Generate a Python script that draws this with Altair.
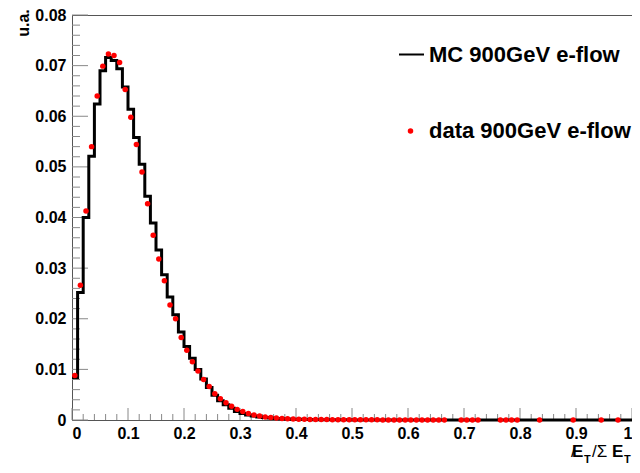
import altair as alt
import pandas as pd
import numpy as np

# ---- data ----
# MC histogram: 100 bins of width 0.01 on [0, 1]
mc_values = [
    0.0084, 0.0252, 0.0400, 0.0521, 0.0624, 0.0690, 0.0716, 0.0710, 0.0694, 0.0658,
    0.0614, 0.0558, 0.0505, 0.0442, 0.0389, 0.0336, 0.0287, 0.0243, 0.0208, 0.0174,
    0.0145, 0.0122, 0.0100, 0.0081, 0.0064, 0.0049, 0.0038, 0.0030, 0.0023, 0.0017,
    0.0013, 0.0010, 0.0008, 0.0006, 0.0005, 0.0004, 0.0003, 0.00025, 0.0002, 0.00016,
    0.00013, 0.0001, 0.00008, 0.00007, 0.00006, 0.00005, 0.00004, 0.00004, 0.00003, 0.00003,
    0.00002, 0.00002, 0.00002, 0.00002, 0.00002, 0.00001, 0.00001, 0.00001, 0.00001, 0.00001,
    0.00001, 0.00001, 0.00001, 0.00001, 0.00001, 0.00001, 0.00001, 0.00001, 0.00001, 0.00001,
    0.00001, 0.00001, 0.00001, 0.00001, 0.0, 0.0, 0.00001, 0.00001, 0.0, 0.0,
    0.0, 0.0, 0.0, 0.0, 0.0, 0.0, 0.0, 0.0, 0.0, 0.0,
    0.0, 0.0, 0.0, 0.0, 0.0, 0.0, 0.0, 0.0, 0.0, 0.0,
]
bin_low = [round(i / 100, 2) for i in range(100)]

# data points (bin centres) and values
data_x = [
    0.005, 0.015, 0.025, 0.035, 0.045, 0.055, 0.065, 0.075, 0.085, 0.095,
    0.105, 0.115, 0.125, 0.135, 0.145, 0.155, 0.165, 0.175, 0.185, 0.195,
    0.205, 0.215, 0.225, 0.235, 0.245, 0.255, 0.265, 0.275, 0.285, 0.295,
    0.305, 0.315, 0.325, 0.335, 0.345, 0.355, 0.365, 0.375, 0.385, 0.395,
    0.405, 0.415, 0.425, 0.435, 0.445, 0.455, 0.465, 0.475, 0.485, 0.495,
    0.505, 0.515, 0.525, 0.535, 0.545, 0.555, 0.565, 0.575, 0.585, 0.595,
    0.605, 0.615, 0.625, 0.635, 0.645, 0.655, 0.665,
    0.695, 0.705, 0.715, 0.725,
    0.765, 0.775, 0.785, 0.795,
    0.835, 0.895, 0.945, 0.975,
]
data_y = [
    0.0088, 0.0266, 0.0413, 0.0540, 0.0640, 0.0699, 0.0723, 0.0720, 0.0706, 0.0653,
    0.0598, 0.0544, 0.0490, 0.0427, 0.0365, 0.0318, 0.0275, 0.0227, 0.0200, 0.0163,
    0.0138, 0.0115, 0.0097, 0.0080, 0.0066, 0.0052, 0.0042, 0.0034, 0.0027, 0.0021,
    0.0017, 0.0013, 0.0010, 0.0008, 0.0006, 0.0005, 0.0004, 0.0003, 0.00025, 0.0002,
    0.00016, 0.00014, 0.00012, 0.0001, 0.00009, 0.00008, 0.00007, 0.00006, 0.00005, 0.00005,
    0.00004, 0.00004, 0.00003, 0.00003, 0.00003, 0.00002, 0.00002, 0.00002, 0.00002, 0.00002,
    0.00002, 0.00002, 0.00001, 0.00001, 0.00001, 0.00001, 0.00001,
    0.00001, 0.00001, 0.00001, 0.00001,
    0.00001, 0.00001, 0.00001, 0.00001,
    0.00001, 0.00001, 0.00001, 0.00001,
]

x_major = [0, 0.1, 0.2, 0.3, 0.4, 0.5, 0.6, 0.7, 0.8, 0.9, 1.0]
x_minor = [round(i * 0.02, 2) for i in range(51) if i % 5 != 0]
y_major = [0, 0.01, 0.02, 0.03, 0.04, 0.05, 0.06, 0.07, 0.08]
y_minor = [round(i * 0.002, 3) for i in range(41) if i % 5 != 0]

legend_mc = "MC 900GeV e-flow"
legend_data = "data 900GeV e-flow"

# ---- chart ----
W, H = 560, 405
FONT = "Liberation Sans"

xs = alt.Scale(domain=[0, 1], nice=False, zero=False)
ys = alt.Scale(domain=[0, 0.08], nice=False, zero=False)

mc_df = pd.DataFrame({"x": bin_low + [1.0], "y": mc_values + [mc_values[-1]]})
pt_df = pd.DataFrame({"x": data_x, "y": data_y})

base_axes = alt.Chart(pd.DataFrame({"x": [0.0], "y": [0.0]})).mark_point(opacity=0).encode(
    x=alt.X("x:Q", scale=xs, title=None,
            axis=alt.Axis(values=x_major, ticks=False, grid=False,
                          labelExpr="datum.value == 0 ? '0' : datum.value == 1 ? '1' : format(datum.value, '.1f')",
                          labelPadding=5)),
    y=alt.Y("y:Q", scale=ys, title=None,
            axis=alt.Axis(values=y_major, ticks=False, grid=False,
                          labelExpr="datum.value == 0 ? '0' : format(datum.value, '.2f')",
                          labelPadding=6)),
)

tick_color = "#888888"
xmaj = alt.Chart(pd.DataFrame({"v": x_major})).mark_rule(color=tick_color, strokeWidth=1).encode(
    x=alt.X("v:Q", scale=xs), y=alt.value(H), y2=alt.value(H - 12))
xmin = alt.Chart(pd.DataFrame({"v": x_minor})).mark_rule(color=tick_color, strokeWidth=1).encode(
    x=alt.X("v:Q", scale=xs), y=alt.value(H), y2=alt.value(H - 6))
ymaj = alt.Chart(pd.DataFrame({"v": y_major})).mark_rule(color=tick_color, strokeWidth=1).encode(
    y=alt.Y("v:Q", scale=ys), x=alt.value(0), x2=alt.value(16))
ymin = alt.Chart(pd.DataFrame({"v": y_minor})).mark_rule(color=tick_color, strokeWidth=1).encode(
    y=alt.Y("v:Q", scale=ys), x=alt.value(0), x2=alt.value(8))

mc_line = alt.Chart(mc_df).mark_line(interpolate="step-after", color="black", strokeWidth=3).encode(
    x=alt.X("x:Q", scale=xs), y=alt.Y("y:Q", scale=ys))

pts = alt.Chart(pt_df).mark_circle(color="#ff0000", size=30, opacity=1).encode(
    x=alt.X("x:Q", scale=xs), y=alt.Y("y:Q", scale=ys))

one = pd.DataFrame({"a": [0]})

def txt(text, x, y, size, weight="bold", align="left", baseline="alphabetic", angle=0, style="normal"):
    return alt.Chart(one).mark_text(text=text, font=FONT, fontSize=size, fontWeight=weight,
                                    align=align, baseline=baseline, angle=angle, fontStyle=style,
                                    color="black").encode(x=alt.value(x), y=alt.value(y))

leg_line = alt.Chart(one).mark_rule(color="black", strokeWidth=2).encode(
    x=alt.value(327), x2=alt.value(352), y=alt.value(39.5))
leg_dot = alt.Chart(one).mark_circle(color="#ff0000", size=30, opacity=1).encode(
    x=alt.value(338.5), y=alt.value(116))
leg1 = txt(legend_mc, 357, 47, 22)
leg2 = txt(legend_data, 357, 122.5, 22)

# x axis title: E-slash_T / Sigma E_T
t1 = txt("E", 500, 442, 17)
t1s = txt("/", 499, 442, 17, weight="normal")
t2 = txt("T", 512, 448, 11)
t3 = txt("/Σ", 520, 442, 17, weight="normal")
t4 = txt("E", 540, 442, 17)
t5 = txt("T", 552, 448, 11)

ytitle = txt("u.a.", -48, 8, 16, align="center", baseline="middle", angle=270)

chart = alt.layer(
    base_axes, xmin, xmaj, ymin, ymaj, mc_line, pts,
    leg_line, leg_dot, leg1, leg2, t1, t1s, t2, t3, t4, t5, ytitle,
).properties(
    width=W, height=H,
    autosize=alt.AutoSizeParams(type="none"),
    padding={"left": 64, "top": 7, "right": 0, "bottom": 45},
    background="white",
).configure_view(
    stroke="#555555", strokeWidth=1,
).configure_axis(
    labelFont=FONT, labelFontSize=16, labelFontWeight="bold", labelColor="black",
    domainColor="#555555", domainWidth=1,
)

chart.save("out.html", embed_options={"renderer": "svg", "actions": False})
